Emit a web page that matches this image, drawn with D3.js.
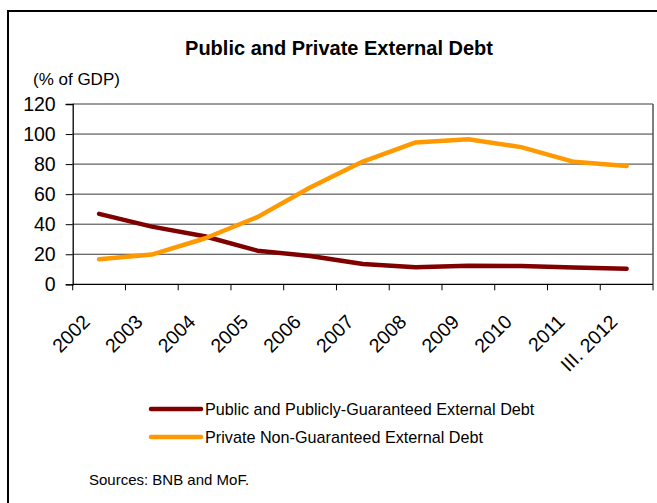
<!DOCTYPE html>
<html>
<head>
<meta charset="utf-8">
<script src="https://cdn.jsdelivr.net/npm/d3@7"></script>
<style>
  html, body { margin: 0; padding: 0; background: #fff; }
  svg { display: block; font-family: "Liberation Sans", Arial, sans-serif; }
</style>
</head>
<body>
<svg id="chart" width="657" height="503"></svg>
<script>
const categories = ["2002","2003","2004","2005","2006","2007","2008","2009","2010","2011","III. 2012"];
const publicDebt = [46.9, 38.4, 32.0, 22.4, 18.9, 13.5, 11.3, 12.3, 12.1, 11.1, 10.4];
const privateDebt = [16.7, 19.8, 30.5, 44.7, 64.4, 81.7, 94.4, 96.6, 91.3, 81.5, 78.7];
const yTicks = [0, 20, 40, 60, 80, 100, 120];
const seriesNames = ["Public and Publicly-Guaranteed External Debt", "Private Non-Guaranteed External Debt"];
const seriesColors = ["#800000", "#FF9900"];

const svg = d3.select("#chart");
const W = 657, H = 503;
const plot = { left: 72.7, right: 653, top: 104, bottom: 284.3 };

// outer frame
svg.append("rect").attr("x", 8).attr("y", 11).attr("width", 700).attr("height", 600)
  .attr("fill", "none").attr("stroke", "#000").attr("stroke-width", 2);

// title
svg.append("text").attr("x", 339).attr("y", 55).attr("text-anchor", "middle")
  .attr("font-size", 20).attr("font-weight", "bold").text("Public and Private External Debt");
svg.append("text").attr("x", 33).attr("y", 85).attr("font-size", 17).text("(% of GDP)");

const x = d3.scaleBand().domain(categories).range([plot.left, plot.right]).padding(0);
const y = d3.scaleLinear().domain([0, 120]).range([plot.bottom, plot.top]);

// gridlines
svg.append("g").selectAll("line").data(yTicks.filter(v => v > 0)).join("line")
  .attr("x1", plot.left).attr("x2", plot.right)
  .attr("y1", d => y(d)).attr("y2", d => y(d))
  .attr("stroke", "#3a3a3a").attr("stroke-width", 1);
// right border
svg.append("line").attr("x1", plot.right).attr("x2", plot.right)
  .attr("y1", plot.top).attr("y2", plot.bottom).attr("stroke", "#555").attr("stroke-width", 1.5);

// y axis
const yAxis = svg.append("g").attr("transform", `translate(${plot.left},0)`)
  .call(d3.axisLeft(y).tickValues(yTicks).tickSize(7).tickPadding(10).tickFormat(d3.format("d")));
yAxis.select(".domain").attr("stroke", "#000").attr("stroke-width", 1.3);
yAxis.selectAll(".tick line").attr("stroke", "#000");
yAxis.selectAll(".tick text").attr("font-size", 19.5).attr("font-family", "Liberation Sans, Arial, sans-serif").attr("fill", "#000");

// x axis: ticks at band boundaries
const xAxisG = svg.append("g");
xAxisG.append("line").attr("x1", plot.left).attr("x2", plot.right)
  .attr("y1", plot.bottom).attr("y2", plot.bottom).attr("stroke", "#000").attr("stroke-width", 1.3);
const boundaries = categories.map(c => x(c)).concat([x(categories[categories.length - 1]) + x.bandwidth()]);
xAxisG.selectAll("line.tk").data(boundaries).join("line").attr("class", "tk")
  .attr("x1", d => d).attr("x2", d => d)
  .attr("y1", plot.bottom).attr("y2", plot.bottom + 6).attr("stroke", "#000");
xAxisG.selectAll("text").data(categories).join("text")
  .attr("transform", d => `translate(${x(d) + x.bandwidth() / 2 - 8},${323}) rotate(-45)`)
  .attr("text-anchor", "end").attr("font-size", 19.5).text(d => d);

// lines
const line = d3.line().x((d, i) => x(categories[i]) + x.bandwidth() / 2).y(d => y(d));
[publicDebt, privateDebt].forEach((s, k) => {
  svg.append("path").datum(s).attr("d", line).attr("fill", "none")
    .attr("stroke", seriesColors[k]).attr("stroke-width", 4.5)
    .attr("stroke-linejoin", "round").attr("stroke-linecap", "round");
});
// redraw public line on top? (reference: orange above red at crossing)
svg.selectAll("path").filter((d, i) => false);

// legend
const legendY = [409, 437];
seriesNames.forEach((name, k) => {
  svg.append("line").attr("x1", 151).attr("x2", 201).attr("y1", legendY[k]).attr("y2", legendY[k])
    .attr("stroke", seriesColors[k]).attr("stroke-width", 4.5).attr("stroke-linecap", "round");
  svg.append("text").attr("x", 205).attr("y", legendY[k] + 6).attr("font-size", 16.2).text(name);
});

svg.append("text").attr("x", 89).attr("y", 485).attr("font-size", 15).text("Sources: BNB and MoF.");
</script>
</body>
</html>
